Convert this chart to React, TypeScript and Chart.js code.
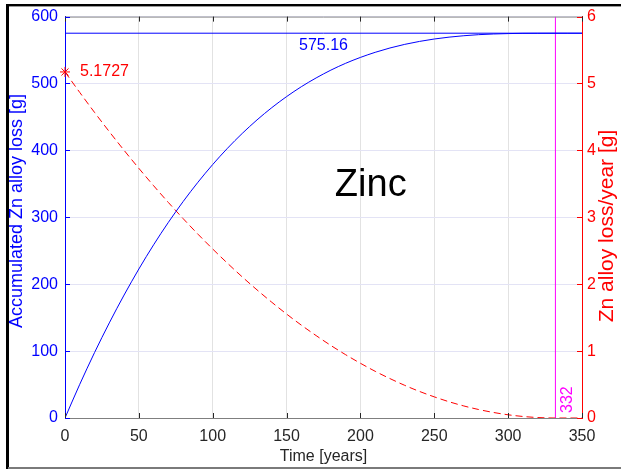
import React, { useEffect, useRef } from "react";
import { Chart, registerables } from "chart.js";

Chart.register(...registerables);

// Time [years]
const years = [0, 10, 20, 30, 40, 50, 60, 70, 80, 90, 100, 110, 120, 130, 140, 150, 160, 170, 180, 190, 200, 210, 220, 230, 240, 250, 260, 270, 280, 290, 300, 310, 320, 332, 340, 350];
// Accumulated Zn alloy loss [g] (left axis)
const accumulated = [0, 50.4, 97.8, 142.2, 183.8, 222.7, 258.9, 292.5, 323.6, 352.4, 378.9, 403.2, 425.4, 445.6, 463.9, 480.4, 495.2, 508.3, 520.0, 530.2, 539.0, 546.6, 553.1, 558.5, 562.9, 566.5, 569.3, 571.4, 573.0, 574.0, 574.6, 575.0, 575.1, 575.16, 575.16, 575.16];
// Zn alloy loss/year [g] (right axis)
const lossPerYear = [5.1727, 4.866, 4.568, 4.28, 4.001, 3.732, 3.472, 3.221, 2.98, 2.748, 2.526, 2.313, 2.109, 1.915, 1.73, 1.554, 1.388, 1.232, 1.084, 0.946, 0.818, 0.698, 0.589, 0.488, 0.397, 0.316, 0.243, 0.18, 0.127, 0.083, 0.048, 0.023, 0.007, 0, 0, 0];

const totalLoss = 575.16;
const initialRate = 5.1727;
const endYear = 332;
const xTicks = [0, 50, 100, 150, 200, 250, 300, 350];
const leftTicks = [0, 100, 200, 300, 400, 500, 600];
const rightTicks = [0, 1, 2, 3, 4, 5, 6];

const FONT = "'Liberation Sans', Arial, Helvetica, sans-serif";

export default function App() {
  const ref = useRef<HTMLCanvasElement>(null);

  useEffect(() => {
    const canvas = ref.current!;
    const overlay = {
      id: "overlay",
      beforeDraw(chart: any) {
        const c = chart.ctx;
        c.save();
        c.fillStyle = "#ffffff";
        c.fillRect(0, 0, chart.width, chart.height);
        c.restore();
      },
      afterDraw(chart: any) {
        const c = chart.ctx;
        const { left, right, top, bottom } = chart.chartArea;
        const xs = chart.scales.x;
        const yl = chart.scales.y;
        const yr = chart.scales.y2;
        c.save();
        // top axis line
        c.strokeStyle = "#8a8a8a";
        c.lineWidth = 1;
        c.beginPath();
        c.moveTo(left, top + 0.5);
        c.lineTo(right, top + 0.5);
        c.stroke();
        // inward ticks
        c.strokeStyle = "#262626";
        xTicks.forEach((v) => {
          const px = Math.round(xs.getPixelForValue(v)) + 0.5;
          c.beginPath();
          c.moveTo(px, bottom);
          c.lineTo(px, bottom - 5);
          c.moveTo(px, top);
          c.lineTo(px, top + 5);
          c.stroke();
        });
        c.strokeStyle = "#0000ff";
        leftTicks.forEach((v) => {
          const py = Math.round(yl.getPixelForValue(v)) + 0.5;
          c.beginPath();
          c.moveTo(left, py);
          c.lineTo(left + 5, py);
          c.stroke();
        });
        c.strokeStyle = "#ff0000";
        rightTicks.forEach((v) => {
          const py = Math.round(yr.getPixelForValue(v)) + 0.5;
          c.beginPath();
          c.moveTo(right, py);
          c.lineTo(right - 5, py);
          c.stroke();
        });
        // texts
        c.textBaseline = "middle";
        c.font = `16px ${FONT}`;
        c.fillStyle = "#0000ff";
        c.textAlign = "center";
        c.fillText(totalLoss.toFixed(2), xs.getPixelForValue(175), yl.getPixelForValue(557));
        c.fillStyle = "#ff0000";
        c.textAlign = "left";
        c.fillText(initialRate.toFixed(4), xs.getPixelForValue(0) + 15, yr.getPixelForValue(initialRate));
        c.fillStyle = "#000000";
        c.textAlign = "center";
        c.font = `38px ${FONT}`;
        c.fillText("Zinc", xs.getPixelForValue(207), yl.getPixelForValue(348));
        // 332 label rotated
        c.save();
        c.font = `16px ${FONT}`;
        c.fillStyle = "#ff00ff";
        c.translate(xs.getPixelForValue(endYear) + 12, bottom - 5);
        c.rotate(-Math.PI / 2);
        c.textAlign = "left";
        c.fillText(String(endYear), 0, 0);
        c.restore();
        // axis titles
        c.font = `16px ${FONT}`;
        c.fillStyle = "#262626";
        c.textAlign = "center";
        c.fillText("Time [years]", (left + right) / 2, 457);
        c.save();
        c.font = `18px ${FONT}`;
        c.fillStyle = "#0000ff";
        c.translate(17, 211);
        c.rotate(-Math.PI / 2);
        c.fillText("Accumulated Zn alloy loss [g]", 0, 0);
        c.restore();
        c.save();
        c.font = `21px ${FONT}`;
        c.fillStyle = "#ff0000";
        c.translate(607, 226);
        c.rotate(-Math.PI / 2);
        c.fillText("Zn alloy loss/year [g]", 0, 0);
        c.restore();
        // outer frame
        c.fillStyle = "#000000";
        c.fillRect(6, 4, 3, chart.height - 4);
        c.fillRect(6, 4, chart.width - 6, 2);
        c.fillStyle = "#9a9a9a";
        c.fillRect(9, 6, chart.width - 9, 1);
        c.fillStyle = "#7a7a7a";
        c.fillRect(8, 467, chart.width - 8, 2);
        c.restore();
      },
    };

    const chart = new Chart(canvas, {
      type: "line",
      data: {
        datasets: [
          {
            data: years.map((x, i) => ({ x, y: accumulated[i] })),
            yAxisID: "y",
            borderColor: "#0000ff",
            borderWidth: 1,
            pointRadius: 0,
            cubicInterpolationMode: "monotone",
            fill: false,
          },
          {
            data: [{ x: 0, y: totalLoss }, { x: 350, y: totalLoss }],
            yAxisID: "y",
            borderColor: "#0000ff",
            borderWidth: 1,
            pointRadius: 0,
            fill: false,
          },
          {
            data: years.map((x, i) => ({ x, y: lossPerYear[i] })),
            yAxisID: "y2",
            borderColor: "#ff0000",
            borderWidth: 1,
            borderDash: [7, 4],
            pointRadius: 0,
            cubicInterpolationMode: "monotone",
            fill: false,
          },
          {
            data: [{ x: 0, y: initialRate }],
            yAxisID: "y2",
            borderColor: "#ff0000",
            backgroundColor: "#ff0000",
            pointStyle: "star",
            pointRadius: 5,
            pointBorderWidth: 1,
            showLine: false,
            clip: false,
          },
          {
            data: [{ x: endYear, y: 0 }, { x: endYear, y: 6 }],
            yAxisID: "y2",
            borderColor: "#ff00ff",
            borderWidth: 1,
            pointRadius: 0,
            fill: false,
          },
        ],
      },
      options: {
        animation: false,
        responsive: false,
        maintainAspectRatio: false,
        layout: { padding: { left: 0, right: 0, top: 15, bottom: 0 } },
        plugins: { legend: { display: false }, tooltip: { enabled: false } },
        scales: {
          x: {
            type: "linear",
            min: 0,
            max: 350,
            afterFit: (s: any) => { s.height = 51; },
            afterBuildTicks: (s: any) => { s.ticks = xTicks.map((v) => ({ value: v })); },
            ticks: { color: "#262626", font: { size: 16, family: FONT }, padding: 9, maxRotation: 0 },
            grid: { color: "#e2e2e2", drawTicks: false },
            border: { display: true, color: "#7f7f7f", width: 1 },
          },
          y: {
            type: "linear",
            position: "left",
            min: 0,
            max: 600,
            afterFit: (s: any) => { s.width = 65; },
            afterBuildTicks: (s: any) => { s.ticks = leftTicks.map((v) => ({ value: v })); },
            ticks: { color: "#0000ff", font: { size: 16, family: FONT }, padding: 7 },
            grid: { color: "#e3e3f5", drawTicks: false },
            border: { display: true, color: "#0000ff", width: 1 },
          },
          y2: {
            type: "linear",
            position: "right",
            min: 0,
            max: 6,
            afterFit: (s: any) => { s.width = 39; },
            afterBuildTicks: (s: any) => { s.ticks = rightTicks.map((v) => ({ value: v })); },
            ticks: { color: "#ff0000", font: { size: 16, family: FONT }, padding: 5 },
            grid: { display: false, drawTicks: false },
            border: { display: true, color: "#ff0000", width: 1 },
          },
        },
      },
      plugins: [overlay],
    } as any);
    return () => chart.destroy();
  }, []);

  return (
    <div style={{ position: "absolute", left: 0, top: 0, width: 621, height: 469 }}>
      <canvas ref={ref} width={621} height={469} style={{ width: 621, height: 469, display: "block" }} />
    </div>
  );
}
